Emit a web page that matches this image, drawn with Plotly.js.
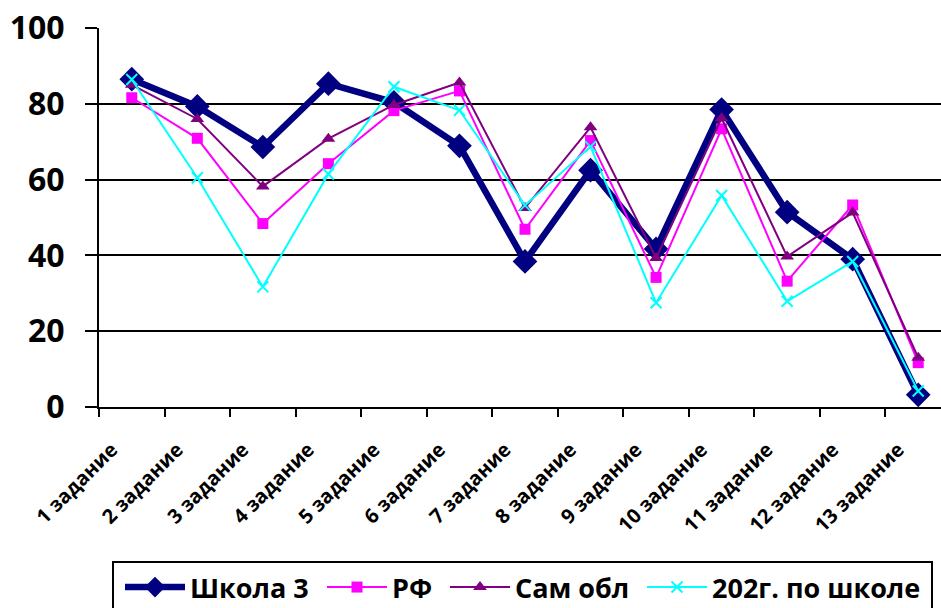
<!DOCTYPE html>
<html>
<head>
<meta charset="utf-8">
<script src="https://cdn.plot.ly/plotly-3.0.1.min.js"></script>
<style>
  html, body { margin: 0; padding: 0; overflow: hidden; background: #fff; }
  #chart { width: 960px; height: 608px; }
</style>
</head>
<body>
<div id="chart"></div>
<script>
// Task categories along the x axis
const tasks = ["1 задание", "2 задание", "3 задание", "4 задание", "5 задание", "6 задание",
  "7 задание", "8 задание", "9 задание", "10 задание", "11 задание", "12 задание", "13 задание"];

// Percent of completion per task
const school3 = [86.5, 79.3, 68.6, 85.3, 80.4, 68.9, 38.4, 62.5, 41.7, 78.5, 51.4, 39.0, 3.2];
const russia = [81.6, 70.9, 48.4, 64.2, 78.2, 83.4, 46.9, 70.3, 34.2, 73.4, 33.2, 53.3, 11.7];
const region = [85.0, 76.0, 58.2, 70.8, 79.7, 85.6, 52.5, 73.8, 39.3, 76.2, 39.7, 51.3, 13.0];
const lastYear = [86.4, 60.5, 31.7, 61.5, 84.5, 78.3, 53.2, 68.7, 27.5, 55.8, 27.9, 38.4, 4.2];

const seriesNames = ["Школа 3", "РФ", "Сам обл", "202г. по школе"];
const yTicks = [0, 20, 40, 60, 80, 100];

const FONT = "'Open Sans', Lato, 'DejaVu Sans', sans-serif";

// Figure geometry (px)
const W = 960, H = 608;
const M = { l: 99, r: 9, t: 28, b: 201 };
const plotW = W - M.l - M.r;
const plotH = H - M.t - M.b;
const toPaperX = px => (px - M.l) / plotW;
const toPaperY = py => (H - M.b - py) / plotH;

const traces = [
  {
    x: tasks, y: school3, name: seriesNames[0], type: "scatter", mode: "lines+markers",
    line: { color: "#000080", width: 6.5 },
    marker: { symbol: "diamond", size: 19, color: "#000080" },
    legend: "legend"
  },
  {
    x: tasks, y: russia, name: seriesNames[1], type: "scatter", mode: "lines+markers",
    line: { color: "#FF00FF", width: 2 },
    marker: { symbol: "square", size: 11, color: "#FF00FF" },
    legend: "legend2"
  },
  {
    x: tasks, y: region, name: seriesNames[2], type: "scatter", mode: "lines+markers",
    line: { color: "#800080", width: 2 },
    marker: { symbol: "triangle-up", size: 12, color: "#800080" },
    legend: "legend3"
  },
  {
    x: tasks, y: lastYear, name: seriesNames[3], type: "scatter", mode: "lines+markers",
    line: { color: "#00FFFF", width: 2 },
    marker: { symbol: "x-thin", size: 11, color: "#00FFFF", line: { color: "#00FFFF", width: 2 } },
    legend: "legend4"
  }
];

// One single-entry legend per series, laid out in a row inside a framed box
function legendAt(px) {
  return {
    orientation: "h",
    xref: "container",
    yref: "container",
    x: px / W,
    y: 1 - 563 / H,
    xanchor: "left",
    yanchor: "top",
    borderwidth: 0,
    bgcolor: "rgba(0,0,0,0)",
    itemwidth: 60,
    font: { family: FONT, size: 27, color: "#000000", weight: "bold" }
  };
}

const layout = {
  width: W,
  height: H,
  margin: M,
  paper_bgcolor: "#ffffff",
  plot_bgcolor: "#ffffff",
  font: { family: FONT, color: "#000000" },
  xaxis: {
    type: "category",
    range: [-0.5, 12.5],
    showgrid: false,
    showline: true,
    linecolor: "#000000",
    linewidth: 2,
    ticks: "outside",
    tickson: "boundaries",
    ticklen: 8,
    tickwidth: 2,
    tickcolor: "#000000",
    tickangle: -45,
    ticklabelstandoff: 21,
    ticklabelshift: -20,
    tickfont: { family: FONT, size: 20, color: "#000000", weight: "bold" },
    zeroline: false,
    fixedrange: true
  },
  yaxis: {
    range: [0, 100],
    tickvals: yTicks,
    ticktext: yTicks.map(String),
    showgrid: true,
    gridcolor: "#000000",
    gridwidth: 2,
    showline: true,
    linecolor: "#000000",
    linewidth: 2,
    ticks: "outside",
    ticklen: 12,
    tickwidth: 2,
    tickcolor: "#000000",
    ticklabelstandoff: 14,
    tickfont: { family: FONT, size: 32, color: "#000000", weight: "bold" },
    zeroline: false,
    fixedrange: true
  },
  showlegend: true,
  legend: legendAt(120),
  legend2: legendAt(322),
  legend3: legendAt(445),
  legend4: legendAt(642),
  shapes: [
    {
      type: "rect",
      xref: "paper",
      yref: "paper",
      x0: toPaperX(113),
      x1: toPaperX(932),
      y0: toPaperY(562),
      y1: toPaperY(640),
      line: { color: "#000000", width: 2 },
      fillcolor: "rgba(0,0,0,0)",
      layer: "below"
    }
  ]
};

Plotly.newPlot("chart", traces, layout, { staticPlot: true, displayModeBar: false });
</script>
</body>
</html>
